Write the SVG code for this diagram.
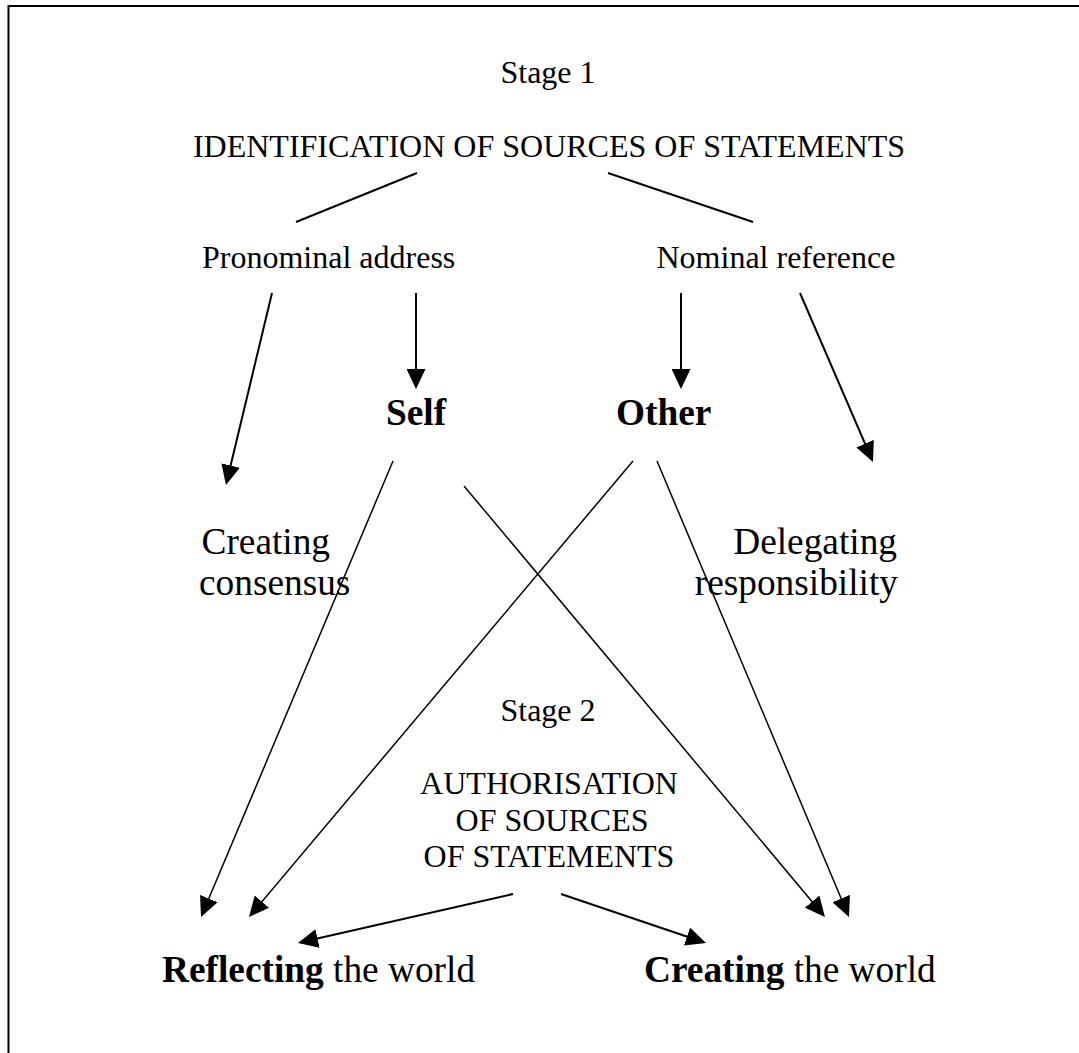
<svg xmlns="http://www.w3.org/2000/svg" width="1079" height="1053" viewBox="0 0 1079 1053">
  <style>
    text { font-family: "Liberation Serif", "Times New Roman", serif; fill: #000; }
    .n { font-size: 32px; }
    .m { font-size: 37.33px; }
    .b { font-weight: bold; }
    .mid { text-anchor: middle; }
    .end { text-anchor: end; }
    .ln { fill: none; stroke: #000; stroke-width: 2; }
    .thin { stroke-width: 1.5; }
    .arr { marker-end: url(#head); }
  </style>
  <defs>
    <marker id="head" markerUnits="userSpaceOnUse" markerWidth="20" markerHeight="19" refX="16" refY="9.5" orient="auto" viewBox="0 0 20 19">
      <path d="M0,0 L20,9.5 L0,19 Z" fill="#000"/>
    </marker>
  </defs>

  <rect width="1079" height="1053" fill="#fff"/>
  <!-- page frame (open at right and bottom) -->
  <path class="ln" d="M8.5,1053 V6 H1079"/>

  <g id="stage1"><text class="n mid" x="548" y="83">Stage 1</text></g>
  <g id="identification"><text class="n mid" x="549" y="157">IDENTIFICATION OF SOURCES OF STATEMENTS</text></g>
  <g id="pronominal"><text class="n" x="202" y="268">Pronominal address</text></g>
  <g id="nominal"><text class="n" x="656.5" y="268">Nominal reference</text></g>
  <g id="self"><text class="m b" x="386" y="425">Self</text></g>
  <g id="other"><text class="m b" x="616" y="425">Other</text></g>
  <g id="consensus">
    <text class="m" y="554"><tspan x="201.5">Creating</tspan><tspan x="199" y="595">consensus</tspan></text>
  </g>
  <g id="delegating">
    <text class="m end" y="554"><tspan x="897">Delegating</tspan><tspan x="898" y="595">responsibility</tspan></text>
  </g>
  <g id="stage2"><text class="n mid" x="548" y="721">Stage 2</text></g>
  <g id="authorisation">
    <text class="n mid"><tspan x="549" y="794">AUTHORISATION</tspan><tspan x="552" y="831">OF SOURCES</tspan><tspan x="549" y="867">OF STATEMENTS</tspan></text>
  </g>
  <g id="reflecting"><text class="m" x="162" y="982"><tspan class="b">Reflecting</tspan> the world</text></g>
  <g id="creating"><text class="m" x="644" y="982"><tspan class="b">Creating</tspan> the world</text></g>

  <g id="connectors">
    <line class="ln" x1="417" y1="173" x2="296" y2="222"/>
    <line class="ln" x1="608" y1="173" x2="753" y2="222"/>
    <line class="ln arr" x1="272" y1="293" x2="226.9" y2="481.1"/>
    <line class="ln arr" x1="416" y1="293" x2="416" y2="385"/>
    <line class="ln arr" x1="681" y1="293" x2="681" y2="385"/>
    <line class="ln arr" x1="800" y1="293" x2="871.4" y2="458.3"/>
    <line class="ln thin arr" x1="393" y1="461" x2="202.6" y2="913.3"/>
    <line class="ln thin arr" x1="633" y1="461" x2="251.6" y2="913.9"/>
    <line class="ln thin arr" x1="464" y1="486" x2="822.4" y2="913.9"/>
    <line class="ln thin arr" x1="657" y1="461" x2="847.4" y2="913.3"/>
    <line class="ln arr" x1="513" y1="894" x2="301.9" y2="942.1"/>
    <line class="ln arr" x1="561" y1="894" x2="702.2" y2="941.7"/>
  </g>
</svg>
